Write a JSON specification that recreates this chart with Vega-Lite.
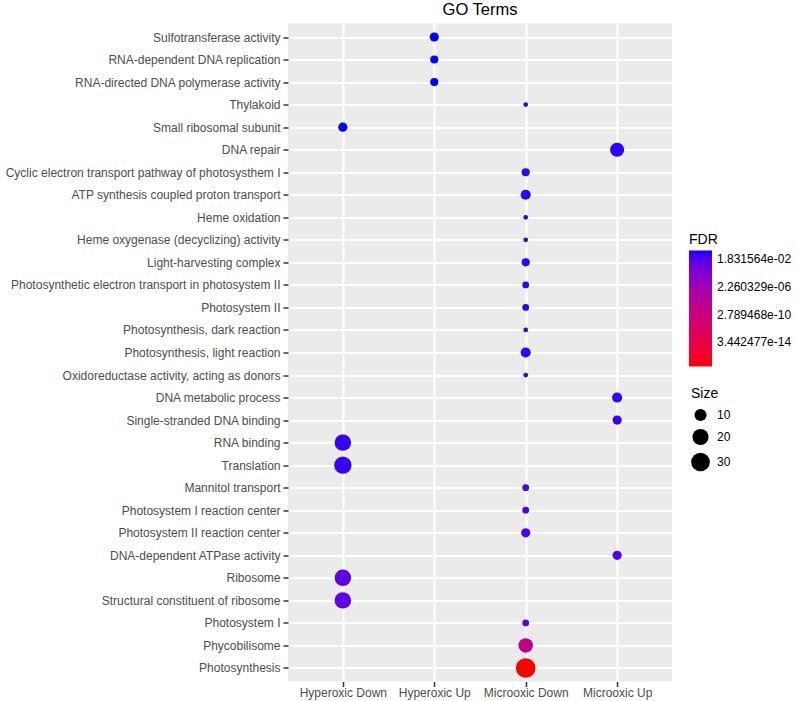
{
  "$schema": "https://vega.github.io/schema/vega-lite/v6.json",
  "width": 384,
  "height": 658,
  "autosize": {"type": "none"},
  "padding": {"left": 288, "top": 23.5, "right": 125, "bottom": 19.5},
  "background": "white",
  "title": {"text": "GO Terms", "fontSize": 16.5, "font": "Liberation Sans", "fontWeight": "normal", "color": "black", "anchor": "middle", "offset": 5},
  "config": {
    "font": "Liberation Sans",
    "view": {"fill": "#EBEBEB", "stroke": null},
    "axis": {"domain": false, "grid": true, "gridColor": "white", "gridWidth": 2, "tickColor": "#333333", "tickWidth": 1.5, "tickSize": 5, "labelColor": "#4D4D4D", "labelFontSize": 12, "labelFont": "Liberation Sans"}
  },
  "data": {"values": [
    {"Term": "Sulfotransferase activity", "Group": "Hyperoxic Up", "Size": 6, "FDR": 0.33},
    {"Term": "RNA-dependent DNA replication", "Group": "Hyperoxic Up", "Size": 5, "FDR": 0.33},
    {"Term": "RNA-directed DNA polymerase activity", "Group": "Hyperoxic Up", "Size": 5, "FDR": 0.33},
    {"Term": "Thylakoid", "Group": "Microoxic Down", "Size": 3, "FDR": 0.2},
    {"Term": "Small ribosomal subunit", "Group": "Hyperoxic Down", "Size": 6, "FDR": 0.33},
    {"Term": "DNA repair", "Group": "Microoxic Up", "Size": 14, "FDR": 0.15},
    {"Term": "Cyclic electron transport pathway of photosysthem I", "Group": "Microoxic Down", "Size": 5, "FDR": 0.13},
    {"Term": "ATP synthesis coupled proton transport", "Group": "Microoxic Down", "Size": 7, "FDR": 0.13},
    {"Term": "Heme oxidation", "Group": "Microoxic Down", "Size": 3, "FDR": 0.13},
    {"Term": "Heme oxygenase (decyclizing) activity", "Group": "Microoxic Down", "Size": 3, "FDR": 0.13},
    {"Term": "Light-harvesting complex", "Group": "Microoxic Down", "Size": 5, "FDR": 0.13},
    {"Term": "Photosynthetic electron transport in photosystem II", "Group": "Microoxic Down", "Size": 4, "FDR": 0.13},
    {"Term": "Photosystem II", "Group": "Microoxic Down", "Size": 4, "FDR": 0.13},
    {"Term": "Photosynthesis, dark reaction", "Group": "Microoxic Down", "Size": 3, "FDR": 0.13},
    {"Term": "Photosynthesis, light reaction", "Group": "Microoxic Down", "Size": 7, "FDR": 0.11},
    {"Term": "Oxidoreductase activity, acting as donors", "Group": "Microoxic Down", "Size": 3, "FDR": 0.13},
    {"Term": "DNA metabolic process", "Group": "Microoxic Up", "Size": 7, "FDR": 0.1},
    {"Term": "Single-stranded DNA binding", "Group": "Microoxic Up", "Size": 6, "FDR": 0.1},
    {"Term": "RNA binding", "Group": "Hyperoxic Down", "Size": 21, "FDR": 0.1},
    {"Term": "Translation", "Group": "Hyperoxic Down", "Size": 24, "FDR": 0.1},
    {"Term": "Mannitol transport", "Group": "Microoxic Down", "Size": 4, "FDR": 0.035},
    {"Term": "Photosystem I reaction center", "Group": "Microoxic Down", "Size": 4, "FDR": 0.035},
    {"Term": "Photosystem II reaction center", "Group": "Microoxic Down", "Size": 6, "FDR": 0.035},
    {"Term": "DNA-dependent ATPase activity", "Group": "Microoxic Up", "Size": 6, "FDR": 0.028},
    {"Term": "Ribosome", "Group": "Hyperoxic Down", "Size": 21, "FDR": 0.0077},
    {"Term": "Structural constituent of ribosome", "Group": "Hyperoxic Down", "Size": 21, "FDR": 0.0077},
    {"Term": "Photosystem I", "Group": "Microoxic Down", "Size": 4, "FDR": 0.011},
    {"Term": "Phycobilisome", "Group": "Microoxic Down", "Size": 15, "FDR": 2.2e-9},
    {"Term": "Photosynthesis", "Group": "Microoxic Down", "Size": 35, "FDR": 1.4e-17}
  ]},
  "mark": {"type": "circle", "opacity": 1},
  "encoding": {
    "x": {"field": "Group", "type": "nominal", "scale": {"type": "point", "padding": 0.6, "domain": ["Hyperoxic Down", "Hyperoxic Up", "Microoxic Down", "Microoxic Up"]}, "axis": {"labelAngle": 0, "labelPadding": 1, "title": null}},
    "y": {"field": "Term", "type": "nominal", "sort": null, "scale": {"type": "point", "padding": 0.6}, "axis": {"labelPadding": 3, "title": null, "labelLimit": 400}},
    "color": {"field": "FDR", "type": "quantitative", "scale": {"type": "log", "domain": [1.4e-17, 0.334], "range": ["red", "blue"], "interpolate": "lab"},
      "legend": {"orient": "none", "legendX": 401, "legendY": 209, "direction": "vertical", "title": "FDR", "titleFont": "Liberation Sans", "titleFontSize": 14, "titleFontWeight": "normal", "titleColor": "black", "titlePadding": 4, "gradientLength": 116, "gradientThickness": 23, "gradientStrokeWidth": 0, "values": [0.01831564, 2.260329e-6, 2.789468e-10, 3.442477e-14], "labelExpr": "replace(format(datum.value, '.6e'), regexp('e-([0-9])$'), 'e-0$1')", "labelFont": "Liberation Sans", "labelFontSize": 12, "labelColor": "black", "labelOffset": 5, "labelOverlap": false}},
    "size": {"field": "Size", "type": "quantitative", "scale": {"type": "sqrt", "domain": [3, 35], "range": [22, 388]},
      "legend": {"orient": "none", "legendX": 403, "legendY": 363, "title": "Size", "titleFont": "Liberation Sans", "titleFontSize": 14, "titleFontWeight": "normal", "titleColor": "black", "titlePadding": 8, "values": [10, 20, 30], "symbolType": "circle", "symbolFillColor": "black", "symbolStrokeColor": "black", "symbolStrokeWidth": 0, "symbolOpacity": 1, "labelFont": "Liberation Sans", "labelFontSize": 12, "labelColor": "black", "labelOffset": 7, "rowPadding": 7}}
  }
}
